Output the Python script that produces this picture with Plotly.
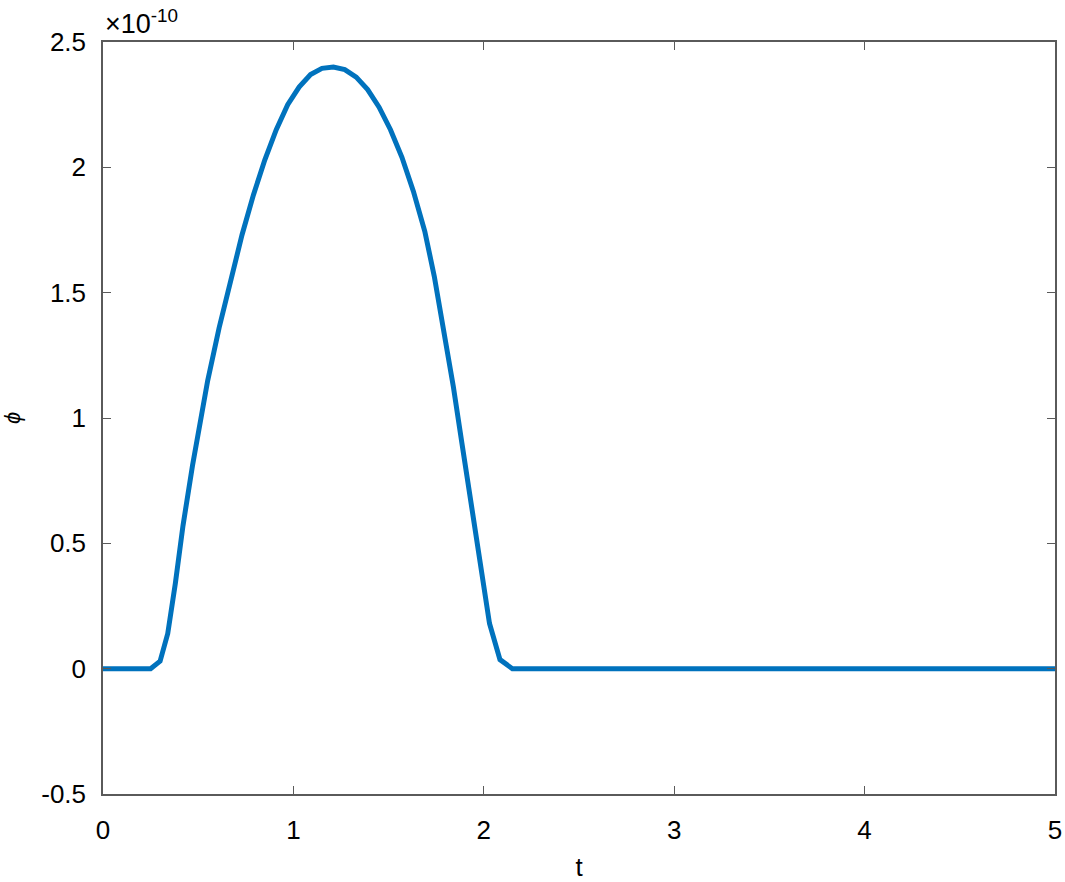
import plotly.graph_objects as go

# data (phi in units of 1e-10)
t = [0, 0.25, 0.30, 0.34, 0.38, 0.42, 0.47, 0.51, 0.55, 0.61, 0.67, 0.73,
     0.79, 0.85, 0.91, 0.97, 1.03, 1.09, 1.15, 1.21, 1.27, 1.33, 1.39, 1.45,
     1.51, 1.57, 1.63, 1.69, 1.74, 1.79, 1.84, 1.885, 1.93, 1.98, 2.03,
     2.085, 2.15, 5.0]
phi = [0, 0, 0.03, 0.14, 0.34, 0.57, 0.81, 0.99, 1.15, 1.36, 1.55, 1.73,
       1.89, 2.03, 2.15, 2.25, 2.32, 2.37, 2.395, 2.40, 2.39, 2.36, 2.31, 2.24,
       2.15, 2.04, 1.905, 1.745, 1.565, 1.355, 1.125, 0.90, 0.67, 0.43, 0.18,
       0.036, 0, 0]

x_ticks = [0, 1, 2, 3, 4, 5]
y_ticks = [-0.5, 0, 0.5, 1, 1.5, 2, 2.5]
y_labels = ["-0.5", "0", "0.5", "1", "1.5", "2", "2.5"]

font = "Liberation Sans, Arial, sans-serif"
axis_col = "#5a5a5a"

fig = go.Figure()
fig.add_trace(go.Scatter(x=t, y=phi, mode="lines",
                         line=dict(color="#0072BD", width=5)))

fig.update_layout(
    width=1065, height=882,
    paper_bgcolor="white", plot_bgcolor="white",
    margin=dict(l=103, r=10, t=42, b=88),
    showlegend=False,
    font=dict(family=font, size=26, color="black"),
    annotations=[dict(text="×10<sup>-10</sup>", xref="paper", yref="paper",
                      x=0, y=1, xanchor="left", yanchor="bottom",
                      showarrow=False, font=dict(size=27, color="black"),
                      xshift=0, yshift=1)],
)
fig.update_xaxes(range=[0, 5], tickvals=x_ticks, ticks="inside", ticklen=8,
                 tickcolor=axis_col, showline=True, linecolor=axis_col,
                 linewidth=1.5, mirror="ticks", showgrid=False, zeroline=False,
                 ticklabelstandoff=12, automargin=False,
                 ticklabeloverflow="allow",
                 title=dict(text="t", standoff=16, font=dict(size=26)))
fig.update_yaxes(range=[-0.5, 2.5], tickvals=y_ticks, ticktext=y_labels,
                 ticks="inside", ticklen=8, tickcolor=axis_col, showline=True,
                 linecolor=axis_col, linewidth=1.5, mirror="ticks",
                 showgrid=False, zeroline=False, ticklabelstandoff=10,
                 automargin=False,
                 title=dict(text="<i>ϕ</i>", standoff=30, font=dict(size=22)))

# drop the default 8px page margin so the figure fills the window
fig.write_html("out.html", config={"displayModeBar": False},
               post_script="document.body.style.margin='0';"
                           "document.body.style.overflow='hidden';")
